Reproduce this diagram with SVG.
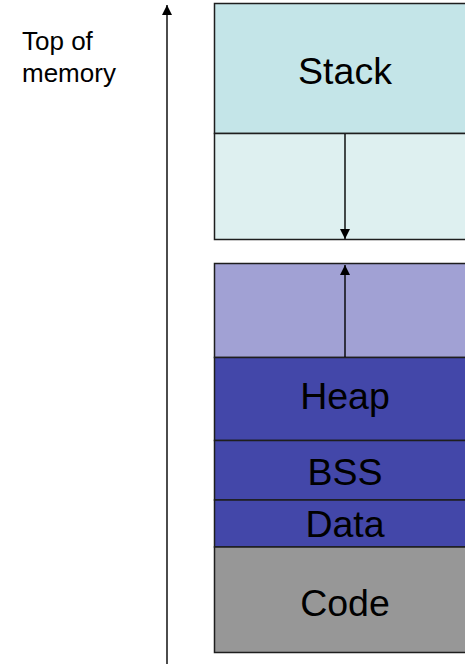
<svg xmlns="http://www.w3.org/2000/svg" width="465" height="664" viewBox="0 0 465 664">
  <style>
    .seg { stroke: #1e1e1e; stroke-width: 1.5; }
    .lbl { font-family: "Liberation Sans", Arial, sans-serif; font-size: 37.5px; fill: #000; text-anchor: middle; }
    .side { font-family: "Liberation Sans", Arial, sans-serif; font-size: 26px; fill: #000; }
    .conn { stroke: #000; stroke-width: 1.4; fill: none; }
  </style>
  <defs>
    <marker id="ah" viewBox="0 0 10 10" refX="10" refY="5" markerWidth="10" markerHeight="10" markerUnits="userSpaceOnUse" orient="auto">
      <path d="M0,0 L10,5 L0,10 Z" fill="#000"/>
    </marker>
  </defs>
  <rect width="465" height="664" fill="#fff"/>

  <g id="top-of-memory">
    <text class="side" x="22" y="50">Top of</text>
    <text class="side" x="22" y="82">memory</text>
  </g>

  <g id="stack">
    <rect class="seg" x="214.5" y="3.5" width="260" height="130" fill="#c4e5e8"/>
    <text class="lbl" x="345" y="84">Stack</text>
  </g>
  <g id="stack-growth">
    <rect class="seg" x="214.5" y="133.5" width="260" height="106" fill="#def0f0"/>
  </g>
  <g id="heap-growth">
    <rect class="seg" x="214.5" y="263.5" width="260" height="94" fill="#a1a1d4"/>
  </g>
  <g id="heap">
    <rect class="seg" x="214.5" y="357.5" width="260" height="83" fill="#4347a9"/>
    <text class="lbl" x="345" y="409">Heap</text>
  </g>
  <g id="bss">
    <rect class="seg" x="214.5" y="440.5" width="260" height="59.5" fill="#4347a9"/>
    <text class="lbl" x="345" y="485">BSS</text>
  </g>
  <g id="data">
    <rect class="seg" x="214.5" y="500" width="260" height="47" fill="#4347a9"/>
    <text class="lbl" x="345" y="537">Data</text>
  </g>
  <g id="code">
    <rect class="seg" x="214.5" y="547" width="260" height="105.5" fill="#979797"/>
    <text class="lbl" x="345" y="616">Code</text>
  </g>

  <g id="connectors">
    <line class="conn" x1="167" y1="664" x2="167" y2="5" marker-end="url(#ah)"/>
    <line class="conn" x1="345" y1="134" x2="345" y2="239" marker-end="url(#ah)"/>
    <line class="conn" x1="345" y1="357" x2="345" y2="265" marker-end="url(#ah)"/>
  </g>
</svg>
